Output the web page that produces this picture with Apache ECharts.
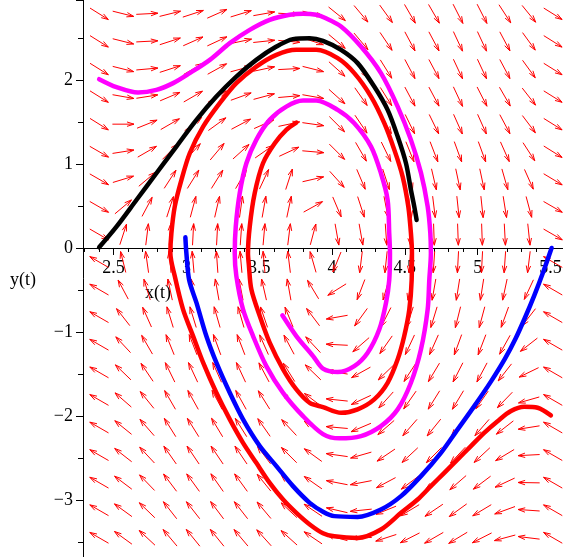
<!DOCTYPE html>
<html>
<head>
<meta charset="utf-8">
<script src="https://cdn.jsdelivr.net/npm/echarts@6/dist/echarts.min.js"></script>
<style>
  html, body { margin: 0; padding: 0; background: #fff; }
  #chart { width: 563px; height: 557px; }
</style>
</head>
<body>
<div id="chart"></div>
<script>
// direction field: arrow centres (columns / rows) and arrow angle in degrees (screen, ccw)
var arrowX = [2.401, 2.566, 2.730, 2.888, 3.046, 3.211, 3.375, 3.533, 3.705, 3.870,
              4.034, 4.199, 4.371, 4.535, 4.700, 4.865, 5.030, 5.187, 5.352, 5.517];
var arrowY = [2.786, 2.458, 2.129, 1.801, 1.473, 1.145, 0.817, 0.489, 0.161, -0.167,
              -0.495, -0.823, -1.151, -1.480, -1.808, -2.136, -2.464, -2.792, -3.120, -3.448];
var arrowAngle = [
  [-32, -14, 3, 14, 18, 24, 17, 10, -3, -14, -39, -50, -54, -60, -60, -63, -63, -57, -51, -32],
  [-32, -14, 3, 18, 24, 25, 12, 6, -5, -18, -40, -50, -56, -62, -62, -65, -65, -62, -54, -32],
  [-32, -14, 5, 18, 30, 29, 15, 12, 3, -14, -42, -53, -58, -62, -62, -65, -65, -62, -54, -32],
  [-32, -10, 9, 23, 30, 32, 20, 15, 5, -10, -42, -55, -58, -62, -62, -65, -63, -60, -52, -32],
  [-32, 0, 22, 30, 38, 36, 28, 24, 12, -8, -45, -56, -60, -64, -64, -66, -66, -62, -53, -32],
  [-30, 9, 30, 45, 48, 50, 42, 35, 25, -5, -45, -60, -64, -68, -69, -70, -70, -66, -57, -32],
  [-30, 17, 40, 57, 58, 58, 60, 65, 72, 13, -48, -67, -72, -76, -77, -78, -78, -74, -66, -31],
  [-30, 40, 62, 72, 75, 77, 82, 80, 78, 29, -67, -72, -79, -82, -83, -84, -84, -81, -75, -30],
  [-30, 72, 83, 86, 87, 87, 86, 85, 83, 75, -80, -80, -86, -87, -88, -88, -88, -87, -84, -30],
  [150, 104, 98, 95, 95, 94, 95, 95, 97, 106, 248, 263, 264, 266, 266, 267, 267, 266, 263, 150],
  [150, 118, 107, 102, 101, 100, 101, 103, 100, 121, 212, 249, 254, 259, 260, 261, 261, 258, 245, 150],
  [150, 128, 114, 107, 107, 106, 106, 109, 112, 127, 190, 234, 243, 252, 253, 256, 255, 250, 232, 150],
  [150, 133, 120, 112, 111, 110, 111, 114, 118, 133, 177, 221, 235, 245, 246, 250, 249, 241, 218, 150],
  [150, 136, 124, 116, 115, 114, 115, 118, 122, 136, 171, 209, 224, 237, 239, 243, 242, 232, 206, 150],
  [150, 139, 129, 120, 119, 118, 119, 122, 131, 143, 174, 205, 228, 235, 238, 239, 235, 226, 196, 150],
  [150, 141, 131, 122, 122, 121, 122, 125, 133, 144, 175, 203, 221, 229, 231, 233, 229, 218, 189, 150],
  [150, 142, 133, 125, 124, 124, 124, 127, 135, 144, 172, 196, 214, 223, 225, 227, 223, 211, 183, 150],
  [150, 143, 134, 127, 126, 125, 126, 129, 136, 145, 169, 191, 208, 217, 220, 221, 217, 205, 179, 150],
  [150, 144, 136, 128, 128, 127, 128, 130, 137, 146, 167, 186, 202, 211, 214, 216, 211, 200, 176, 150],
  [150, 144, 137, 130, 129, 129, 130, 132, 138, 146, 165, 182, 198, 207, 210, 211, 207, 195, 173, 150]
];

// solution curves [x(t), y(t)]
var redPath = [
  [5.503, -1.992], [5.412, -1.901], [5.320, -1.889], [5.229, -1.940], [5.137, -2.060], [5.045, -2.199],
  [4.954, -2.357], [4.863, -2.515], [4.771, -2.675], [4.679, -2.833], [4.588, -2.992], [4.474, -3.151],
  [4.336, -3.349], [4.176, -3.449], [4.016, -3.429], [3.938, -3.393], [3.847, -3.289], [3.755, -3.151],
  [3.664, -2.992], [3.572, -2.794], [3.480, -2.556], [3.389, -2.318], [3.298, -2.039], [3.206, -1.723],
  [3.115, -1.365], [3.046, -1.048], [2.977, -0.730], [2.920, -0.333], [2.890, -0.063], [2.897, 0.175],
  [2.920, 0.492], [2.966, 0.810], [3.023, 1.127], [3.115, 1.444], [3.229, 1.723], [3.343, 1.961],
  [3.480, 2.158], [3.618, 2.298], [3.755, 2.357], [3.892, 2.357], [4.039, 2.258], [4.153, 2.080],
  [4.268, 1.801], [4.359, 1.485], [4.428, 1.167], [4.485, 0.849], [4.524, 0.492], [4.542, 0.175],
  [4.549, -0.063], [4.547, -0.381], [4.531, -0.730], [4.496, -1.048], [4.451, -1.325], [4.382, -1.604],
  [4.290, -1.801], [4.176, -1.920], [4.062, -1.961], [3.938, -1.893], [3.847, -1.842], [3.755, -1.682],
  [3.664, -1.444], [3.572, -1.127], [3.504, -0.810], [3.446, -0.492], [3.429, -0.202], [3.423, -0.063],
  [3.435, 0.254], [3.469, 0.651], [3.526, 1.008], [3.607, 1.246], [3.686, 1.405], [3.755, 1.492]
];
var magentaPath = [
  [2.401, 2.008], [2.520, 1.913], [2.668, 1.849], [2.794, 1.881], [2.909, 1.961], [3.023, 2.080],
  [3.161, 2.238], [3.298, 2.437], [3.435, 2.595], [3.572, 2.714], [3.710, 2.774], [3.801, 2.786],
  [3.892, 2.774], [3.954, 2.735], [4.062, 2.635], [4.199, 2.396], [4.336, 2.080], [4.451, 1.682],
  [4.542, 1.286], [4.611, 0.893], [4.657, 0.492], [4.675, 0.179], [4.679, -0.060], [4.668, -0.381],
  [4.657, -0.730], [4.611, -1.206], [4.542, -1.604], [4.451, -1.920], [4.336, -2.119], [4.199, -2.238],
  [4.050, -2.265], [3.938, -2.214], [3.801, -2.000], [3.664, -1.723], [3.549, -1.405], [3.458, -1.048],
  [3.389, -0.730], [3.343, -0.333], [3.332, -0.063], [3.339, 0.254], [3.366, 0.651], [3.412, 1.008],
  [3.480, 1.286], [3.572, 1.524], [3.686, 1.682], [3.801, 1.754], [3.892, 1.754], [4.039, 1.643],
  [4.153, 1.484], [4.268, 1.206], [4.336, 0.889], [4.382, 0.571], [4.393, 0.175], [4.398, -0.063],
  [4.393, -0.381], [4.371, -0.651], [4.325, -0.968], [4.245, -1.246], [4.153, -1.405], [4.039, -1.476],
  [3.938, -1.435], [3.870, -1.286], [3.755, -1.048], [3.659, -0.801]
];
var blackPath = [
  [2.401, 0.008], [2.520, 0.254], [2.657, 0.571], [2.794, 0.889], [2.931, 1.206], [3.069, 1.524],
  [3.206, 1.801], [3.343, 2.039], [3.480, 2.238], [3.618, 2.396], [3.732, 2.485], [3.847, 2.496],
  [3.938, 2.464], [4.062, 2.357], [4.176, 2.199], [4.290, 1.920], [4.382, 1.643], [4.451, 1.325],
  [4.508, 1.008], [4.542, 0.690], [4.565, 0.492], [4.581, 0.333]
];
var bluePath = [
  [2.993, 0.127], [3.000, -0.063], [3.019, -0.381], [3.069, -0.651], [3.137, -1.048], [3.206, -1.365],
  [3.298, -1.723], [3.389, -2.039], [3.504, -2.357], [3.618, -2.595], [3.732, -2.833], [3.847, -3.032],
  [3.938, -3.137], [4.016, -3.190], [4.176, -3.199], [4.336, -3.111], [4.474, -2.952], [4.611, -2.714],
  [4.748, -2.437], [4.863, -2.158], [4.977, -1.881], [5.091, -1.590], [5.187, -1.320], [5.260, -1.080],
  [5.325, -0.830], [5.390, -0.560], [5.451, -0.282], [5.508, 0.000]
];

var serif = 'Liberation Serif, Times New Roman, serif';

(function () {
  var myChart = echarts.init(document.getElementById('chart'), null, { renderer: 'canvas' });

  // field data built from the tables above
  var fieldData = [];
  for (var j = 0; j < arrowY.length; j++) {
    for (var i = 0; i < arrowX.length; i++) {
      fieldData.push([arrowX[i], arrowY[j], arrowAngle[j][i]]);
    }
  }

  function curve(path, color) {
    return {
      type: 'line',
      data: path,
      showSymbol: false,
      smooth: 0.3,
      clip: true,
      silent: true,
      lineStyle: { color: color, width: 4.5, cap: 'round', join: 'round' }
    };
  }

  var labelStyle = { color: '#000', fontFamily: serif, fontSize: 18 };

  var option = {
    animation: false,
    backgroundColor: '#fff',
    grid: { left: 83, right: -2, top: 0, bottom: -2, containLabel: false, outerBoundsMode: 'none' },
    xAxis: [
      {
        // axis line and ticks crossing at y = 0
        type: 'value',
        min: 2.29,
        max: 5.6,
        axisLine: { onZero: true, onZeroAxisIndex: 0, lineStyle: { color: '#000', width: 1 } },
        axisTick: { length: 7, lineStyle: { color: '#000' } },
        minorTick: { show: true, splitNumber: 5, length: 4, lineStyle: { color: '#000' } },
        axisLabel: { show: false },
        splitLine: { show: false }
      },
      {
        // tick labels, shifted up to sit just under the y = 0 line
        type: 'value',
        min: 2.29,
        max: 5.6,
        position: 'bottom',
        offset: -311,
        axisLine: { show: false, onZero: false },
        axisTick: { show: false },
        axisLabel: Object.assign({ showMinLabel: false, showMaxLabel: false, margin: 11 }, labelStyle),
        splitLine: { show: false }
      }
    ],
    yAxis: {
      type: 'value',
      min: -3.7,
      max: 2.95,
      axisLine: { show: true, onZero: false, lineStyle: { color: '#000', width: 1 } },
      axisTick: { show: true, length: 7, lineStyle: { color: '#000' } },
      minorTick: { show: true, splitNumber: 2, length: 5, lineStyle: { color: '#000' } },
      axisLabel: Object.assign({
        showMinLabel: false, showMaxLabel: false, margin: 10,
        formatter: function (v) { return v < 0 ? '\u2212' + (-v) : String(v); }
      }, labelStyle),
      splitLine: { show: false }
    },
    graphic: [
      { type: 'text', left: 145, top: 284, style: { text: 'x(t)', font: '18px ' + serif, fill: '#000' } },
      { type: 'text', left: 10, top: 271, style: { text: 'y(t)', font: '18px ' + serif, fill: '#000' } }
    ],
    series: [
      {
        type: 'custom',
        data: fieldData,
        silent: true,
        renderItem: function (params, api) {
          var p = api.coord([api.value(0), api.value(1)]);
          var a = api.value(2) * Math.PI / 180;
          var ux = Math.cos(a), uy = -Math.sin(a);
          var half = 10.8, hl = 7, hw = 2.2;
          var x1 = p[0] - ux * half, y1 = p[1] - uy * half;
          var x2 = p[0] + ux * half, y2 = p[1] + uy * half;
          var bx = x2 - ux * hl, by = y2 - uy * hl;
          return {
            type: 'group',
            children: [
              { type: 'line', shape: { x1: x1, y1: y1, x2: x2, y2: y2 }, style: { stroke: '#ff0000', lineWidth: 1 } },
              {
                type: 'polyline',
                shape: { points: [[bx - uy * hw, by + ux * hw], [x2, y2], [bx + uy * hw, by - ux * hw]] },
                style: { stroke: '#ff0000', fill: null, lineWidth: 1 }
              }
            ]
          };
        }
      },
      curve(redPath, '#ff0000'),
      curve(magentaPath, '#ff00ff'),
      curve(blackPath, '#000000'),
      curve(bluePath, '#0000ff')
    ]
  };
  myChart.setOption(option);
})();
</script>
</body>
</html>
